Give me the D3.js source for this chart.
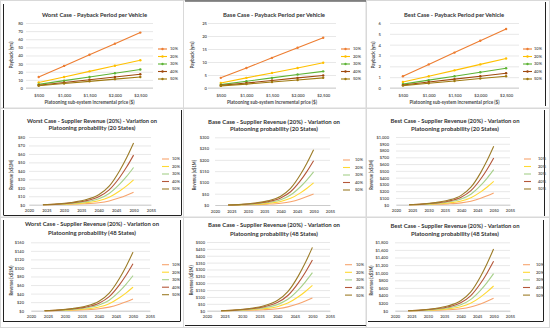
<!DOCTYPE html>
<html><head><meta charset="utf-8">
<script src="https://cdn.jsdelivr.net/npm/d3@7"></script>
<style>body{margin:0;background:#fff}svg{display:block;font-family:Lato,"Open Sans",sans-serif}</style>
</head><body><svg id="c" width="550" height="328"></svg>
<script>
// ---------- DATA ----------
const seriesNames = ["10%", "20%", "30%", "40%", "50%"];
const prices = ["$500", "$1,000", "$1,500", "$2,000", "$2,500"];

const paybackWorst = [
  [13.6, 27.2, 40.9, 54.6, 68.2],
  [6.8, 13.6, 20.5, 27.3, 34.1],
  [4.5, 9.1, 13.6, 18.2, 22.7],
  [3.4, 6.8, 10.2, 13.6, 17.0],
  [2.7, 5.5, 8.2, 10.9, 13.6]
];
const paybackBase = [
  [3.9, 7.7, 11.6, 15.5, 19.3],
  [1.9, 3.9, 5.8, 7.7, 9.7],
  [1.3, 2.6, 3.9, 5.2, 6.4],
  [1.0, 1.9, 2.9, 3.9, 4.8],
  [0.8, 1.5, 2.3, 3.1, 3.9]
];
const paybackBest = [
  [1.09, 2.18, 3.27, 4.36, 5.45],
  [0.55, 1.09, 1.63, 2.18, 2.72],
  [0.36, 0.73, 1.09, 1.45, 1.82],
  [0.27, 0.55, 0.82, 1.09, 1.36],
  [0.22, 0.44, 0.65, 0.87, 1.09]
];

const years = [2024, 2028, 2032, 2036, 2040, 2043, 2046, 2048, 2050];

const revWorst20 = [
  [0, 0.18, 0.5, 1.1, 2.35, 4.4, 8.1, 11.2, 14.7],
  [0, 0.35, 1.0, 2.2, 4.7, 8.8, 16.2, 22.3, 29.4],
  [0, 0.53, 1.5, 3.3, 7.0, 13.2, 24.2, 33.4, 44],
  [0, 0.7, 2.1, 4.4, 9.4, 17.6, 32.2, 44.5, 58.6],
  [0, 0.88, 2.6, 5.5, 11.7, 21.9, 40.2, 55.5, 73]
];
const revBase20 = [
  [0, 0.6, 1.7, 3.7, 7.8, 14.7, 27, 37.2, 49],
  [0, 1.2, 3.4, 7.4, 15.7, 29.4, 53.9, 74.5, 98],
  [0, 1.8, 5.1, 11, 23.5, 44.1, 80.9, 111.7, 147],
  [0, 2.4, 6.9, 14.7, 31.4, 58.8, 107.8, 149, 196],
  [0, 2.9, 8.6, 18.4, 39.2, 73.5, 134.8, 186.2, 245]
];
const revBest20 = [
  [0, 2.1, 6, 12.9, 27.5, 51.6, 94.6, 130.7, 172],
  [0, 4.1, 12.1, 25.9, 55.2, 103.5, 189.8, 262.2, 345],
  [0, 6.2, 18.1, 38.8, 82.7, 155.1, 284.4, 392.9, 517],
  [0, 8.3, 24.2, 51.8, 110.4, 207, 379.5, 524.4, 690],
  [0, 10.3, 30.2, 64.7, 137.9, 258.6, 474.1, 655.1, 862]
];
const revWorst48 = [
  [0, 0.33, 0.96, 2.1, 4.4, 8.3, 15.1, 20.9, 27.5],
  [0, 0.66, 1.9, 4.1, 8.8, 16.5, 30.3, 41.8, 55],
  [0, 1.0, 2.9, 6.2, 13.1, 24.6, 45.1, 62.3, 82],
  [0, 1.3, 3.9, 8.3, 17.6, 33, 60.5, 83.6, 110],
  [0, 1.6, 4.8, 10.3, 21.9, 41.1, 75.4, 104.1, 137]
];
const revBase48 = [
  [0, 1.1, 3.2, 6.9, 14.7, 27.6, 50.6, 69.9, 92],
  [0, 2.2, 6.4, 13.8, 29.4, 55.2, 101.2, 139.8, 184],
  [0, 3.3, 9.7, 20.8, 44.3, 83.1, 152.4, 210.5, 277],
  [0, 4.4, 12.9, 27.7, 59, 110.7, 203, 280.4, 369],
  [0, 5.5, 16.1, 34.6, 73.8, 138.3, 253.6, 350.4, 461]
];
const revBest48 = [
  [0, 3.9, 11.4, 24.4, 52, 97.5, 178.8, 247, 325],
  [0, 7.8, 22.8, 48.8, 104, 195, 357.5, 494, 650],
  [0, 11.7, 34.1, 73.1, 156, 292.5, 536.3, 741, 975],
  [0, 15.6, 45.5, 97.5, 208, 390, 715, 988, 1300],
  [0, 19.5, 56.9, 121.9, 260, 487.5, 893.8, 1235, 1625]
];

const paybackTicks = { worst: [0, 80, 10], base: [0, 25, 5], best: [0, 6, 1] };
const yearTicks = [2020, 2025, 2030, 2035, 2040, 2045, 2050, 2055];

// ---------- STYLE ----------
const paybackColors = ["#ED7D31", "#FFC000", "#5DB335", "#9E480E", "#A07A10"];
const revColors = ["#F7A46E", "#FFD932", "#A6D08A", "#B4573A", "#9C7C28"];
const gridColor = "#d9d9d9";
const textColor = "#4a4a4a";
const titleColor = "#333333";

const svg = d3.select("#c");

// panel frames
const frames = [
  [0.5, 0.5, 183, 107.5], [183.5, 0.5, 182.5, 107.5], [366.5, 0.5, 183, 107.5],
  [0.5, 108.5, 183, 108.5], [183.5, 108.5, 182.5, 108.5], [366.5, 108.5, 183, 108.5],
  [0.5, 217.5, 183, 110], [183.5, 217.5, 182.5, 110], [366.5, 217.5, 183, 110]
];
svg.selectAll("rect.frame").data(frames).join("rect")
  .attr("x", d => d[0]).attr("y", d => d[1]).attr("width", d => d[2]).attr("height", d => d[3])
  .attr("fill", "none").attr("stroke", gridColor).attr("stroke-width", 1);
const darkLines = [
  [3.5, 4, 3.5, 108], [3.5, 110, 3.5, 215], [3.5, 220, 3.5, 322],
  [181.5, 110, 181.5, 215], [3.5, 215.5, 181.5, 215.5],
  [180.5, 220, 180.5, 321], [3.5, 321.5, 180.5, 321.5],
  [185, 1, 366, 1], [185, 325.5, 366, 325.5],
  [545.5, 2, 545.5, 106], [544.5, 110, 544.5, 216], [543.5, 220, 543.5, 321], [368, 321.5, 543.5, 321.5]
];
svg.selectAll("line.dark").data(darkLines).join("line")
  .attr("x1", d => d[0]).attr("y1", d => d[1]).attr("x2", d => d[2]).attr("y2", d => d[3])
  .attr("stroke", "#222").attr("stroke-width", 1);

function fitText(g, x, y, txt, size, width, opts = {}) {
  const t = g.append("text").attr("x", x).attr("y", y).text(txt)
    .attr("font-size", size).attr("fill", opts.fill || titleColor)
    .attr("font-weight", opts.bold ? "bold" : "normal")
    .attr("text-anchor", "middle");
  if (width) t.attr("textLength", width).attr("lengthAdjust", "spacingAndGlyphs");
  if (opts.rotate) t.attr("transform", `rotate(-90,${x},${y})`);
  return t;
}

// ---------- PAYBACK PANELS ----------
const paybackPanels = [
  { data: paybackWorst, ticks: paybackTicks.worst, title: "Worst Case - Payback Period per Vehicle",
    left: 26, right: 153, titleX: 94.5, titleW: 105, yLabX: 23, yTitleX: 13, legX: 158, legTX: 170 },
  { data: paybackBase, ticks: paybackTicks.base, title: "Base Case - Payback Period per Vehicle",
    left: 208, right: 336, titleX: 274, titleW: 102, yLabX: 207, yTitleX: 194, legX: 341, legTX: 353 },
  { data: paybackBest, ticks: paybackTicks.best, title: "Best Case - Payback Period per Vehicle",
    left: 390, right: 519, titleX: 454, titleW: 100, yLabX: 381, yTitleX: 375, legX: 523, legTX: 534 }
];
paybackPanels.forEach(p => {
  const g = svg.append("g");
  const x = d3.scalePoint().domain(prices).range([p.left, p.right]).padding(0.5);
  const y = d3.scaleLinear().domain([p.ticks[0], p.ticks[1]]).range([88, 23]);
  const tv = d3.range(p.ticks[0], p.ticks[1] + p.ticks[2] / 2, p.ticks[2]);
  const ya = g.append("g").attr("transform", `translate(${p.left},0)`)
    .call(d3.axisLeft(y).tickValues(tv).tickSize(-(p.right - p.left)).tickFormat(d3.format("d")));
  ya.select(".domain").remove();
  ya.selectAll(".tick line").attr("stroke", gridColor).attr("stroke-width", 0.6);
  ya.selectAll(".tick text").attr("x", p.yLabX - p.left).attr("dy", "0.35em")
    .attr("font-size", 4.2).attr("font-weight", 600).attr("fill", textColor).attr("font-family", "Lato");
  const xa = g.append("g").attr("transform", "translate(0,88)")
    .call(d3.axisBottom(x).tickSize(0).tickPadding(0));
  xa.select(".domain").attr("stroke", "#bfbfbf").attr("stroke-width", 0.7).attr("d", `M${p.left},0H${p.right}`);
  xa.selectAll(".tick text").attr("y", 8.5).attr("dy", 0)
    .attr("font-size", 4.2).attr("font-weight", 600).attr("fill", textColor).attr("font-family", "Lato");
  fitText(g, p.titleX, 17, p.title, 6.2, p.titleW, { bold: true });
  fitText(g, (p.left + p.right) / 2, 104, "Platooning sub-system incremental price ($)", 5, 90, { bold: true, fill: textColor });
  fitText(g, p.yTitleX, 55, "Payback (yrs)", 5, 27, { bold: true, fill: textColor, rotate: true });
  const line = d3.line().x((d, i) => x(prices[i])).y(d => y(d));
  p.data.forEach((s, k) => {
    g.append("path").attr("d", line(s)).attr("fill", "none")
      .attr("stroke", paybackColors[k]).attr("stroke-width", 1.1);
    g.selectAll(null).data(s).join("circle")
      .attr("cx", (d, i) => x(prices[i])).attr("cy", d => y(d)).attr("r", 1.2)
      .attr("fill", paybackColors[k]);
    const ly = 49 + k * 7.5;
    g.append("line").attr("x1", p.legX).attr("x2", p.legX + 9).attr("y1", ly).attr("y2", ly)
      .attr("stroke", paybackColors[k]).attr("stroke-width", 1.1);
    g.append("circle").attr("cx", p.legX + 4.5).attr("cy", ly).attr("r", 1.2).attr("fill", paybackColors[k]);
    g.append("text").attr("x", p.legTX).attr("y", ly + 1.4).text(seriesNames[k])
      .attr("font-size", 4).attr("font-weight", 600).attr("fill", textColor);
  });
});

// ---------- REVENUE PANELS ----------
const revPanels = [
  { data: revWorst20, max: 80, step: 10, t1: "Worst Case - Supplier Revenue (20%) - Variation on", t2: "Platooning probability (20 States)",
    x0: 29, x1: 151, yb: 204.7, yt: 137, yLabX: 25, yTitleX: 13, titleX: 92, w1: 130, w2: 87, ty1: 122.5, ty2: 130, legX: 162, legTX: 172, legY: 159, legDy: 7.5 },
  { data: revBase20, max: 300, step: 50, t1: "Base Case - Supplier Revenue (20%) - Variation on", t2: "Platooning probability (20 States)",
    x0: 215, x1: 330, yb: 205, yt: 137.3, yLabX: 209, yTitleX: 196, titleX: 274, w1: 132, w2: 88, ty1: 123.5, ty2: 131, legX: 343, legTX: 355, legY: 160, legDy: 7.5 },
  { data: revBest20, max: 1000, step: 100, t1: "Best Case - Supplier Revenue (20%) - Variation on", t2: "Platooning probability (20 States)",
    x0: 396, x1: 510, yb: 204.7, yt: 137, yLabX: 389, yTitleX: 373, titleX: 455, w1: 129, w2: 88, ty1: 123, ty2: 130.5, legX: 524, legTX: 538, legY: 159, legDy: 7.5 },
  { data: revWorst48, max: 160, step: 20, t1: "Worst Case - Supplier Revenue (20%) - Variation on", t2: "Platooning probability (48 States)",
    x0: 31, x1: 150, yb: 310.7, yt: 242.3, yLabX: 24, yTitleX: 13, titleX: 92, w1: 134, w2: 88, ty1: 226, ty2: 235, legX: 162, legTX: 172, legY: 264.7, legDy: 7.5 },
  { data: revBase48, max: 500, step: 50, t1: "Base Case - Supplier Revenue (20%) - Variation on", t2: "Platooning probability (48 States)",
    x0: 207, x1: 330, yb: 310.7, yt: 242, yLabX: 205, yTitleX: 193, titleX: 274, w1: 132, w2: 88, ty1: 226.5, ty2: 235.5, legX: 345, legTX: 356, legY: 264.7, legDy: 7.6 },
  { data: revBest48, max: 1800, step: 200, t1: "Best Case - Supplier Revenue (20%) - Variation on", t2: "Platooning probability (48 States)",
    x0: 395, x1: 510, yb: 310.7, yt: 242.3, yLabX: 388, yTitleX: 373, titleX: 455, w1: 129, w2: 88, ty1: 227.5, ty2: 236, legX: 523, legTX: 536, legY: 264.7, legDy: 7.6 }
];
const money = v => "$" + d3.format(",")(v);
revPanels.forEach(p => {
  const g = svg.append("g");
  const x = d3.scaleLinear().domain([2020, 2055]).range([p.x0, p.x1]);
  const y = d3.scaleLinear().domain([0, p.max]).range([p.yb, p.yt]);
  const tv = d3.range(0, p.max + p.step / 2, p.step);
  const ya = g.append("g").attr("transform", `translate(${p.x0},0)`)
    .call(d3.axisLeft(y).tickValues(tv).tickSize(-(p.x1 - p.x0)).tickFormat(money));
  ya.select(".domain").remove();
  ya.selectAll(".tick line").attr("stroke", gridColor).attr("stroke-width", 0.6);
  ya.selectAll(".tick text").attr("x", p.yLabX - p.x0).attr("dy", "0.35em")
    .attr("font-size", 4).attr("font-weight", 600).attr("fill", textColor).attr("font-family", "Lato");
  const xa = g.append("g").attr("transform", `translate(0,${p.yb})`)
    .call(d3.axisBottom(x).tickValues(yearTicks).tickSize(0).tickFormat(d3.format("d")));
  xa.select(".domain").attr("stroke", "#bfbfbf").attr("stroke-width", 0.7);
  xa.selectAll(".tick text").attr("y", 7.5).attr("dy", 0)
    .attr("font-size", 4).attr("font-weight", 600).attr("fill", textColor).attr("font-family", "Lato");
  fitText(g, p.titleX, p.ty1, p.t1, 6.2, p.w1, { bold: true });
  fitText(g, p.titleX, p.ty2, p.t2, 6.2, p.w2, { bold: true });
  fitText(g, p.yTitleX, (p.yb + p.yt) / 2 + 4, "Revenue (x$1M)", 4.8, 30, { bold: true, fill: textColor, rotate: true });
  const line = d3.line().x((d, i) => x(years[i])).y(d => y(d)).curve(d3.curveMonotoneX);
  p.data.forEach((s, k) => {
    g.append("path").attr("d", line(s)).attr("fill", "none")
      .attr("stroke", revColors[k]).attr("stroke-width", 1.1);
    const ly = p.legY + k * p.legDy;
    g.append("line").attr("x1", p.legX).attr("x2", p.legX + 7).attr("y1", ly).attr("y2", ly)
      .attr("stroke", revColors[k]).attr("stroke-width", 1.1);
    g.append("text").attr("x", p.legTX).attr("y", ly + 1.4).text(seriesNames[k])
      .attr("font-size", 4).attr("font-weight", 600).attr("fill", textColor);
  });
});
</script>
</body></html>
